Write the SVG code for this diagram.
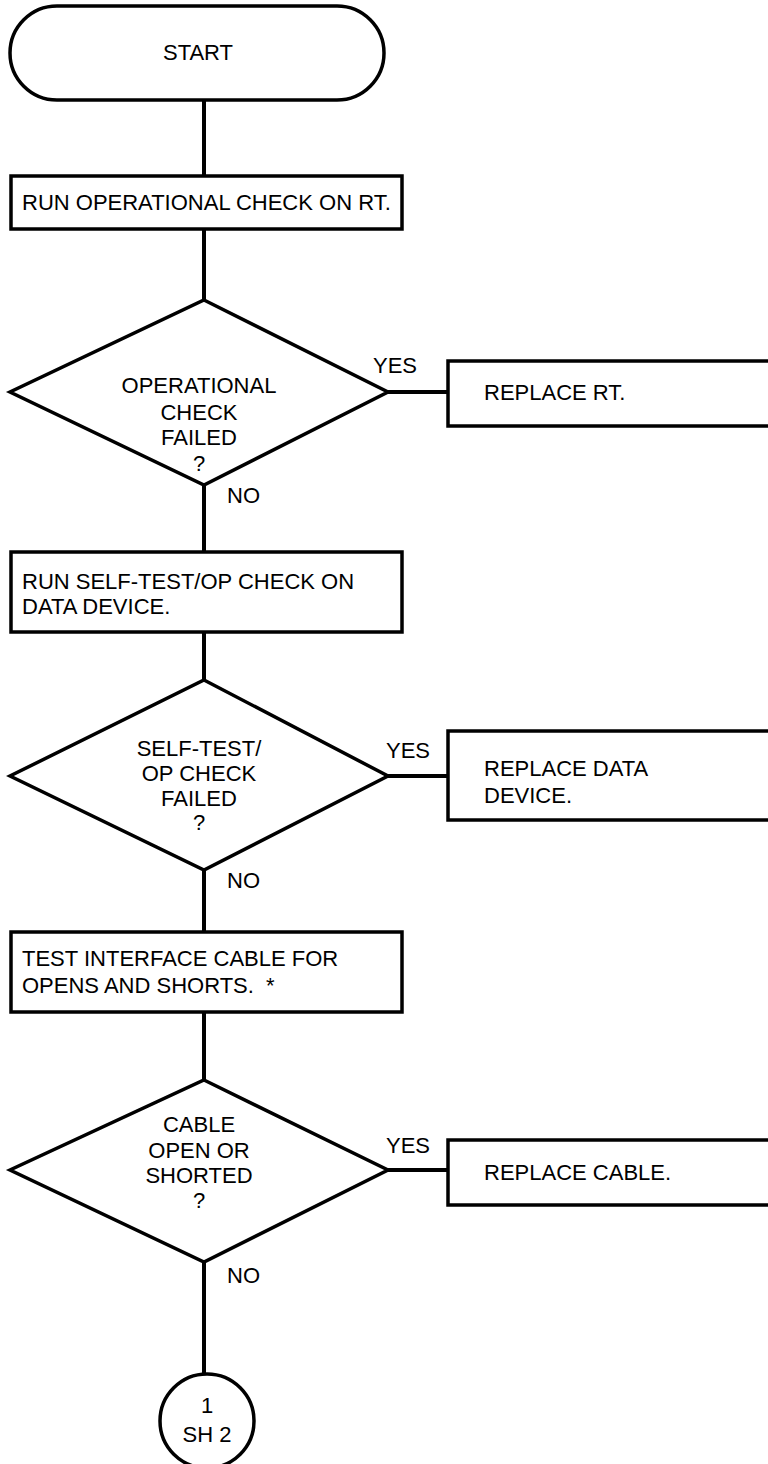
<svg xmlns="http://www.w3.org/2000/svg" width="768" height="1464" viewBox="0 0 768 1464">
<style>
.s{fill:#fff;stroke:#000;stroke-width:3.5;stroke-linejoin:miter}
.c{fill:none;stroke:#000;stroke-width:4}
text{font-family:"Liberation Sans",Arial,sans-serif;font-size:22px;fill:#000}
.m{text-anchor:middle}
</style>
<rect width="768" height="1464" fill="#fff"/>
<g id="connectors">
<line class="c" x1="204" y1="100" x2="204" y2="176"/>
<line class="c" x1="204" y1="229" x2="204" y2="300"/>
<line class="c" x1="388" y1="392" x2="448" y2="392"/>
<line class="c" x1="204" y1="485" x2="204" y2="552"/>
<line class="c" x1="204" y1="632" x2="204" y2="680"/>
<line class="c" x1="388" y1="776" x2="448" y2="776"/>
<line class="c" x1="204" y1="870" x2="204" y2="932"/>
<line class="c" x1="204" y1="1012" x2="204" y2="1080"/>
<line class="c" x1="388" y1="1170" x2="448" y2="1170"/>
<line class="c" x1="204" y1="1262" x2="204" y2="1375"/>
<text x="373" y="373">YES</text>
<text x="227" y="503">NO</text>
<text x="386" y="758">YES</text>
<text x="227" y="888">NO</text>
<text x="386" y="1153">YES</text>
<text x="227" y="1283">NO</text>
</g>
<g id="start">
<rect class="s" x="10" y="6" width="374" height="94" rx="47" ry="47"/>
<text class="m" x="198" y="60">START</text>
</g>
<g id="box1">
<rect class="s" x="11" y="176" width="391" height="53"/>
<text x="22" y="210">RUN OPERATIONAL CHECK ON RT.</text>
</g>
<g id="dec1">
<polygon class="s" points="204,300 388,392 204,485 10,392"/>
<text class="m" x="199" y="393">OPERATIONAL</text>
<text class="m" x="199" y="420">CHECK</text>
<text class="m" x="199" y="445">FAILED</text>
<text class="m" x="199" y="471">?</text>
</g>
<g id="rep1">
<rect class="s" x="448" y="361" width="330" height="65"/>
<text x="484" y="400">REPLACE RT.</text>
</g>
<g id="box2">
<rect class="s" x="11" y="552" width="391" height="80"/>
<text x="22" y="589">RUN SELF-TEST/OP CHECK ON</text>
<text x="22" y="614">DATA DEVICE.</text>
</g>
<g id="dec2">
<polygon class="s" points="204,680 388,776 204,870 10,776"/>
<text class="m" x="199" y="756">SELF-TEST/</text>
<text class="m" x="199" y="781">OP CHECK</text>
<text class="m" x="199" y="806">FAILED</text>
<text class="m" x="199" y="830">?</text>
</g>
<g id="rep2">
<rect class="s" x="448" y="731" width="330" height="89"/>
<text x="484" y="776">REPLACE DATA</text>
<text x="484" y="803">DEVICE.</text>
</g>
<g id="box3">
<rect class="s" x="11" y="932" width="391" height="80"/>
<text x="22" y="966">TEST INTERFACE CABLE FOR</text>
<text x="22" y="993" xml:space="preserve">OPENS AND SHORTS.  *</text>
</g>
<g id="dec3">
<polygon class="s" points="204,1080 388,1170 204,1262 10,1170"/>
<text class="m" x="199" y="1132">CABLE</text>
<text class="m" x="199" y="1158">OPEN OR</text>
<text class="m" x="199" y="1183">SHORTED</text>
<text class="m" x="199" y="1208">?</text>
</g>
<g id="rep3">
<rect class="s" x="448" y="1140" width="330" height="65"/>
<text x="484" y="1180">REPLACE CABLE.</text>
</g>
<g id="conn">
<circle class="s" cx="207" cy="1421" r="47"/>
<text class="m" x="207" y="1413">1</text>
<text class="m" x="207" y="1442">SH 2</text>
</g>
</svg>
